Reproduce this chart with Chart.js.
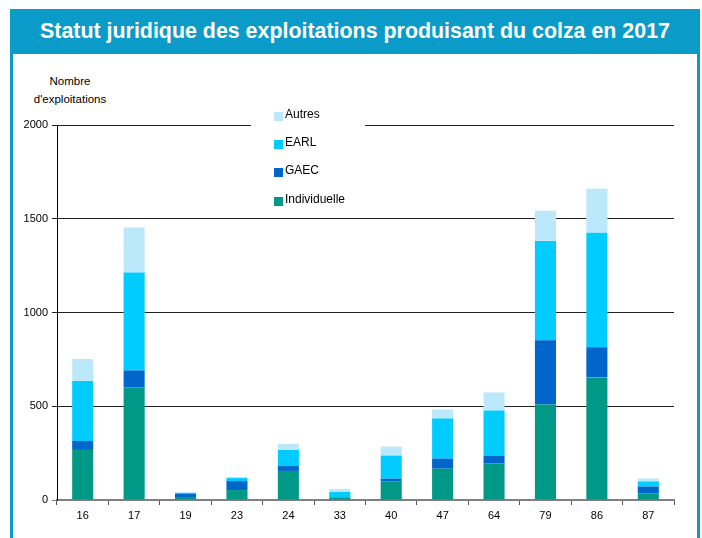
<!DOCTYPE html>
<html>
<head>
<meta charset="utf-8">
<script src="https://cdn.jsdelivr.net/npm/chart.js@4/dist/chart.umd.min.js"></script>
<style>
html,body{margin:0;padding:0;background:#fff;width:702px;height:538px;overflow:hidden;}
#frame{position:absolute;left:10px;top:9px;width:684px;height:540px;border-left:3px solid #0a9bc9;border-right:3px solid #0a9bc9;}
#header{position:absolute;left:10px;top:9px;width:690px;height:45px;background:#0a9bc9;color:#fff;
  font-family:"Liberation Sans",Arial,sans-serif;font-weight:bold;font-size:21.4px;line-height:45px;text-align:center;white-space:nowrap;}
#ytitle{position:absolute;left:20px;top:72px;width:100px;text-align:center;font-family:"Liberation Sans",Arial,sans-serif;font-size:11.5px;line-height:18px;color:#000;}
canvas{position:absolute;left:0;top:0;}
</style>
</head>
<body>
<div id="frame"></div>
<div id="header">Statut juridique des exploitations produisant du colza en 2017</div>
<div id="ytitle">Nombre<br>d'exploitations</div>
<canvas id="c" width="702" height="538"></canvas>
<script>
const categories = ["16","17","19","23","24","33","40","47","64","79","86","87"];
const individuelle = [267, 600, 16, 53, 155, 14, 98, 167, 194, 510, 654, 36];
const gaec         = [48, 91, 16, 48, 26, 2, 16, 54, 43, 342, 161, 36];
const earl         = [320, 523, 5, 16, 86, 27, 123, 214, 241, 530, 610, 27];
const autres       = [117, 240, 6, 6, 32, 16, 48, 48, 96, 161, 235, 16];
const seriesNames  = ["Individuelle", "GAEC", "EARL", "Autres"];
const seriesColors = ["#009987", "#0066cc", "#00ccff", "#bce8fc"];
const yTicks = [0, 500, 1000, 1500, 2000];

const legendPlugin = {
  id: 'customLegend',
  afterDraw(chart) {
    const ctx = chart.ctx;
    ctx.save();
    ctx.fillStyle = '#fff';
    ctx.fillRect(251, 104, 114, 108);
    const order = [3, 2, 1, 0];
    const ys = [116, 144, 172, 201];
    ctx.font = '12px "Liberation Sans", Arial, sans-serif';
    ctx.textBaseline = 'middle';
    order.forEach((di, i) => {
      const ds = chart.data.datasets[di];
      ctx.fillStyle = ds.backgroundColor;
      ctx.fillRect(274, ys[i] - 4, 9, 9);
      ctx.fillStyle = '#000';
      ctx.fillText(ds.label, 285, ys[i] - 1);
    });
    ctx.restore();
  }
};

const datasets = [individuelle, gaec, earl, autres].map((d, i) => ({
  label: seriesNames[i],
  data: d,
  backgroundColor: seriesColors[i],
  borderWidth: 0,
  categoryPercentage: 1,
  barPercentage: 0.41
}));

new Chart(document.getElementById('c'), {
  type: 'bar',
  data: { labels: categories, datasets },
  plugins: [legendPlugin],
  options: {
    responsive: false,
    animation: false,
    layout: { padding: { top: 125, right: 28, left: 0, bottom: 0 } },
    plugins: { legend: { display: false }, tooltip: { enabled: false }, title: { display: false } },
    scales: {
      x: {
        stacked: true,
        afterFit(s) { s.height = 38; },
        grid: { drawOnChartArea: false, drawTicks: true, tickLength: 5, color: '#555', offset: true },
        border: { display: true, color: '#808080', width: 2 },
        ticks: { color: '#000', font: { family: '"Liberation Sans", Arial, sans-serif', size: 11 }, padding: 4 }
      },
      y: {
        stacked: true,
        min: 0, max: 2000,
        afterFit(s) { s.width = 57; },
        afterBuildTicks(s) { s.ticks = yTicks.map(v => ({ value: v })); },
        grid: { color: (c) => c.tick && c.tick.value === 0 ? '#808080' : '#222', lineWidth: 1, tickLength: 5, drawTicks: true },
        border: { display: true, color: '#000', width: 1 },
        ticks: { color: '#000', font: { family: '"Liberation Sans", Arial, sans-serif', size: 11 }, padding: 4,
                 callback: (v) => String(v) }
      }
    }
  }
});
</script>
</body>
</html>
